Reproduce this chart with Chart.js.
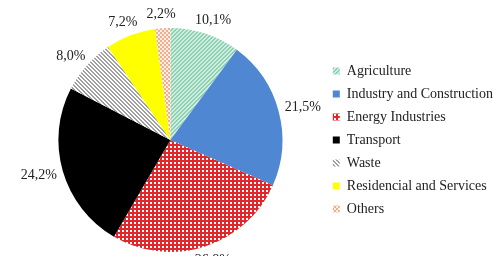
<!DOCTYPE html>
<html>
<head>
<meta charset="utf-8">
<script src="https://cdn.jsdelivr.net/npm/chart.js@4.4.0/dist/chart.umd.min.js"></script>
<style>
  html, body { margin: 0; padding: 0; background: #fff; }
  #caja { width: 493px; height: 256px; }
</style>
</head>
<body>
<div id="caja"><canvas id="torta"></canvas></div>
<script>
const sectores = ['Agriculture', 'Industry and Construction', 'Energy Industries', 'Transport', 'Waste', 'Residencial and Services', 'Others'];
const porcentajes = [10.1, 21.5, 26.8, 24.2, 8.0, 7.2, 2.2];
const etiquetas = ['10,1%', '21,5%', '26,8%', '24,2%', '8,0%', '7,2%', '2,2%'];

// little tiles for the hatched fills
function trama(tam, dibujar) {
    const c = document.createElement('canvas');
    c.width = tam; c.height = tam;
    const g = c.getContext('2d');
    dibujar(g);
    return g.createPattern(c, 'repeat');
}

const ctx = document.getElementById('torta').getContext('2d');

const agricultura = trama(4, g => {
    g.fillStyle = '#cfeee0'; g.fillRect(0, 0, 4, 4);
    g.fillStyle = '#8ed0b2';
    for (let i = 0; i < 4; i++) { g.fillRect(i, (4 - i) % 4, 1, 1); g.fillRect(i, (5 - i) % 4, 1, 1); }
});
const energia = trama(4, g => {
    g.fillStyle = '#ffffff'; g.fillRect(0, 0, 4, 4);
    g.fillStyle = '#e3262b';
    g.fillRect(0, 0, 4, 2); g.fillRect(0, 0, 2, 4);
});
const residuos = trama(4, g => {
    g.fillStyle = '#ffffff'; g.fillRect(0, 0, 4, 4);
    g.fillStyle = '#a0a0a0';
    for (let i = 0; i < 4; i++) { g.fillRect(i, i, 1, 1); g.fillRect((i + 1) % 4, i, 1, 1); }
});
const otros = trama(4, g => {
    g.fillStyle = '#fdf0e6'; g.fillRect(0, 0, 4, 4);
    g.fillStyle = '#f2ad8c';
    g.fillRect(0, 0, 2, 2); g.fillRect(2, 2, 2, 2);
});

const colores = [agricultura, '#4f87d3', energia, '#000000', residuos, '#ffff00', otros];

const rotulos = {
    id: 'rotulos',
    afterDatasetsDraw(chart) {
        const c = chart.ctx;
        const arcos = chart.getDatasetMeta(0).data;
        c.save();
        c.font = '14px "Liberation Serif"';
        c.fillStyle = '#222';
        c.textAlign = 'center';
        c.textBaseline = 'middle';
        arcos.forEach((arco, i) => {
            const p = arco.getProps(['x', 'y', 'startAngle', 'endAngle', 'outerRadius'], true);
            const medio = (p.startAngle + p.endAngle) / 2;
            const cx = Math.cos(medio), sy = Math.sin(medio);
            const ancho = c.measureText(etiquetas[i]).width;
            const r = p.outerRadius + 7;
            const x = p.x + r * cx + ancho / 2 * cx;
            const y = p.y + r * sy + 7 * sy;
            c.fillText(etiquetas[i], x, y);
        });
        c.restore();
    }
};

new Chart(ctx, {
    type: 'pie',
    data: {
        labels: sectores,
        datasets: [{
            data: porcentajes,
            backgroundColor: colores,
            borderWidth: 0
        }]
    },
    options: {
        responsive: true,
        maintainAspectRatio: false,
        animation: false,
        layout: { padding: { left: 17, top: 28, bottom: 4, right: -10 } },
        plugins: {
            tooltip: { enabled: false },
            legend: {
                position: 'right',
                labels: {
                    boxWidth: 7,
                    boxHeight: 7,
                    padding: 9,
                    color: '#222',
                    font: { family: 'Liberation Serif', size: 14 }
                }
            }
        }
    },
    plugins: [rotulos]
});
</script>
</body>
</html>
